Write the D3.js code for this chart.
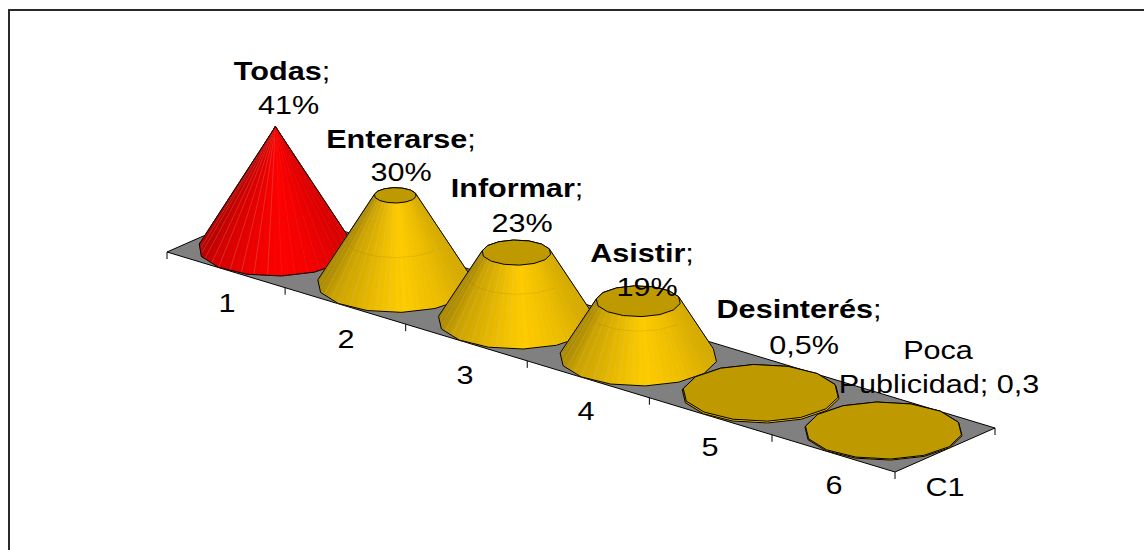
<!DOCTYPE html>
<html>
<head>
<meta charset="utf-8">
<script src="https://cdn.jsdelivr.net/npm/d3@7/dist/d3.min.js"></script>
<style>
  html, body { margin: 0; padding: 0; background: #fff; }
  svg { display: block; }
  text { font-family: "Liberation Sans", Arial, sans-serif; fill: #000; }
</style>
</head>
<body>
<svg id="chart" width="1144" height="550"></svg>
<script>
// Survey results, one cone per category
const categories = ["1", "2", "3", "4", "5", "6"];
const seriesName = "C1";
const values = [41, 30, 23, 19, 0.5, 0.3];
const names = ["Todas", "Enterarse", "Informar", "Asistir", "Desinterés", null];
const valueLabels = ["41%", "30%", "23%", "19%", "0,5%", null];
const highlighted = [true, false, false, false, false, false];

const svg = d3.select("#chart");
const width = 1144, height = 550;

// Oblique floor: front edge runs along `front`, depth follows `side`
const origin = [167, 252];
const front = [728, 220];
const side = [100, -44];
const along = d3.scalePow().exponent(1.015).domain([0, categories.length]).range([0, 1]);
const rise = d3.scaleLinear().domain([0, d3.max(values)]).range([0, 121]);

// Project category position c, depth d (0..1) and value v to the screen
function project(c, d, v) {
  const t = along(c);
  return [
    origin[0] + front[0] * t + side[0] * d,
    origin[1] + front[1] * t + side[1] * d - rise(v)
  ];
}

// Chart frame: only the top and left edges are ruled
svg.append("path")
  .attr("d", `M9,550V10H${width}`)
  .attr("fill", "none").attr("stroke", "#2a2a2a").attr("stroke-width", 2);

// Floor
const corners = [
  project(0, 0, 0), project(categories.length, 0, 0),
  project(categories.length, 1, 0), project(0, 1, 0)
];
svg.append("path")
  .attr("d", d3.line()(corners) + "Z")
  .attr("fill", "#808080").attr("stroke", "#000").attr("stroke-width", 1);

// Ticks along the category edge, plus one at the far corner of the depth axis
const ticks = d3.range(categories.length + 1).map(i => project(i, 0, 0));
ticks.push(project(categories.length, 1, 0));
svg.append("g").selectAll("line").data(ticks).join("line")
  .attr("x1", d => d[0]).attr("x2", d => d[0])
  .attr("y1", d => d[1]).attr("y2", d => d[1] + 7)
  .attr("stroke", "#000").attr("stroke-width", 1);

// Lighting across the cone, u runs from -1 (left) to 1 (right)
const redShade = d3.scaleLinear().domain([-1, -0.8, -0.3, 0.1, 0.6, 1])
  .range(["#b40000", "#d40000", "#f00000", "#ff0000", "#ee0000", "#d80000"]);
const goldShade = d3.scaleLinear().domain([-1, -0.8, -0.3, 0.1, 0.6, 1])
  .range(["#a88600", "#cca300", "#eabb00", "#ffcc00", "#ecbc00", "#d4aa00"]);
const topFill = "#bf9900";

const sides = 14, perSide = 5;
const maxValue = d3.max(values);
const bandValue = 15;

// Point on the ring of radius r (fraction of the half cell) around cone i
function ring(i, angle, r, v) {
  const c = i + 0.5 + 0.5 * r * Math.cos(angle);
  const d = 0.5 + 0.5 * r * Math.sin(angle);
  return project(c, d, v);
}

const cones = svg.append("g");
values.forEach((v, i) => {
  const g = cones.append("g");
  const shade = highlighted[i] ? redShade : goldShade;
  const topR = 1 - v / maxValue;
  const centre = project(i + 0.5, 0.5, 0);
  const extent = d3.max(d3.range(0, 360).map(a => Math.abs(ring(i, a * Math.PI / 180, 1, 0)[0] - centre[0])));

  const steps = sides * perSide;
  const offset = 0.1;
  const strips = d3.range(steps).map(k => {
    const a0 = offset + k / steps * 2 * Math.PI;
    const a1 = offset + (k + 1) / steps * 2 * Math.PI;
    // Base and top rings stay polygonal, so subdivide along the polygon's edges
    const edge = a => {
      const seg = Math.floor((a - offset) / (2 * Math.PI) * sides + 1e-9);
      const f = (a - offset) / (2 * Math.PI) * sides - seg;
      const aA = offset + seg / sides * 2 * Math.PI, aB = offset + (seg + 1) / sides * 2 * Math.PI;
      const mix = (p, q) => [p[0] + (q[0] - p[0]) * f, p[1] + (q[1] - p[1]) * f];
      return {
        base: mix(ring(i, aA, 1, 0), ring(i, aB, 1, 0)),
        top: mix(ring(i, aA, topR, v), ring(i, aB, topR, v))
      };
    };
    const s = edge(a0), e = edge(a1);
    return { pts: [s.base, e.base, e.top, s.top], seam: [s.base, s.top], k };
  }).sort((p, q) => (p.pts[0][1] + p.pts[1][1]) - (q.pts[0][1] + q.pts[1][1]));

  strips.forEach(s => {
    const u = ((s.pts[0][0] + s.pts[1][0]) / 2 - centre[0]) / extent;
    const col = shade(u);
    g.append("path").attr("d", d3.line()(s.pts) + "Z")
      .attr("fill", col).attr("stroke", col).attr("stroke-width", 0.6);
    if (s.k % 2 === 0) {
      g.append("path").attr("d", d3.line()(s.seam))
        .attr("stroke", "#d0d0b8").attr("stroke-opacity", 0.35)
        .attr("stroke-width", 0.6).attr("fill", "none");
    }
  });

  // Faint band on the front of the cone where it crosses the axis division
  if (v > bandValue) {
    const r = 1 - bandValue / maxValue;
    const band = d3.range(0, sides / 2 + 1).map(k => ring(i, Math.PI + k / sides * 2 * Math.PI, r, bandValue));
    g.append("path").attr("d", d3.line()(band))
      .attr("fill", "none").attr("stroke", "#7a5a00").attr("stroke-opacity", 0.14).attr("stroke-width", 1);
  }

  const allPoints = d3.range(sides).flatMap(k => {
    const a = offset + k / sides * 2 * Math.PI;
    return [ring(i, a, 1, 0), ring(i, a, topR, v)];
  });
  g.append("path").attr("d", d3.line()(d3.polygonHull(allPoints)) + "Z")
    .attr("fill", "none").attr("stroke", "#000").attr("stroke-width", 1).attr("stroke-linejoin", "round");

  if (topR > 0.001) {
    const rim = d3.range(sides).map(k => ring(i, offset + k / sides * 2 * Math.PI, topR, v));
    g.append("path").attr("d", d3.line()(rim) + "Z")
      .attr("fill", topFill).attr("stroke", "#000").attr("stroke-width", 1);
  }
});

// Text is set in a wide proportion
const wide = 1.2, fontSize = 25.5;
function label(x, y, parts) {
  const t = svg.append("text")
    .attr("transform", `translate(${x},${y}) scale(${wide},1)`)
    .attr("text-anchor", "middle").attr("font-size", fontSize);
  parts.forEach(p => t.append("tspan").attr("font-weight", p[1] ? "bold" : "normal").text(p[0]));
}

// Data labels: name on the first line, value on the second
const nameAnchors = [[282, 80], [401, 148], [517, 197], [642, 262], [799, 318]];
const valueAnchors = [[288.5, 114], [401, 181], [522, 232], [647, 296], [804, 354]];
names.forEach((n, i) => {
  if (!n) return;
  label(nameAnchors[i][0], nameAnchors[i][1], [[n, true], [";", false]]);
  label(valueAnchors[i][0], valueAnchors[i][1], [[valueLabels[i], false]]);
});
label(938, 359, [["Poca", false]]);
label(939, 393, [["Publicidad; 0,3", false]]);

// Category and series axis labels
const catAnchors = [[227, 312], [346, 348], [465, 384], [586, 420], [710, 456], [834, 494]];
categories.forEach((c, i) => label(catAnchors[i][0], catAnchors[i][1], [[c, false]]));
label(945, 496, [[seriesName, false]]);
</script>
</body>
</html>
